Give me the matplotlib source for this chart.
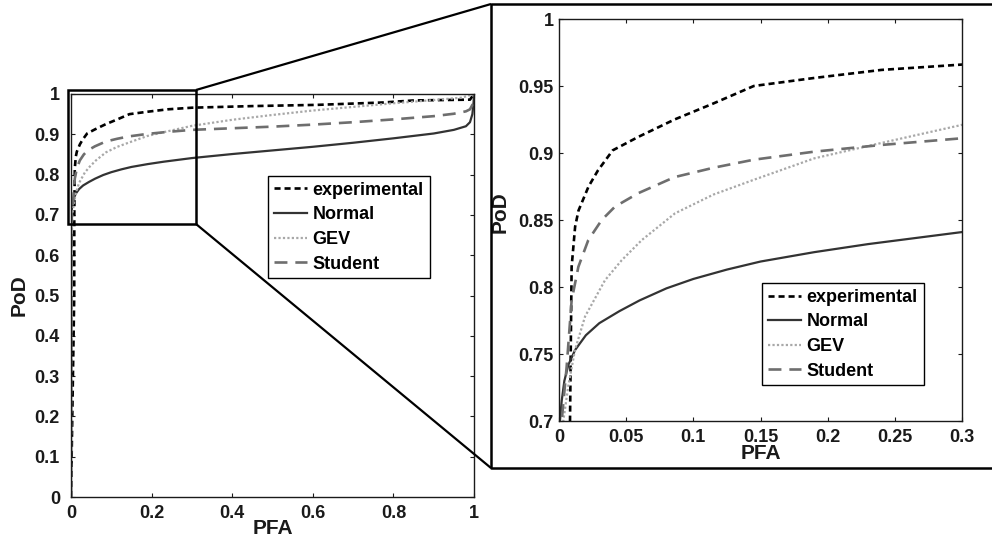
import matplotlib
matplotlib.use("Agg")
import matplotlib.pyplot as plt
from matplotlib.lines import Line2D
from matplotlib.patches import Rectangle
from matplotlib.ticker import FuncFormatter

plt.rcParams['font.family'] = ['Liberation Sans', 'DejaVu Sans']
plt.rcParams['font.weight'] = 'bold'

# ---------------- data ----------------
exp_x = [0, 0.008, 0.0082, 0.0094, 0.012, 0.0145, 0.022, 0.029, 0.040, 0.059,
         0.086, 0.115, 0.145, 0.19, 0.24, 0.30, 0.45, 0.61, 0.775, 0.85, 0.99, 1.0]
exp_y = [0, 0.50, 0.70, 0.815, 0.845, 0.857, 0.875, 0.887, 0.902, 0.912,
         0.925, 0.937, 0.950, 0.956, 0.962, 0.966, 0.970, 0.973, 0.979, 0.984, 0.986, 1.0]

norm_x = [0, 0.00005, 0.0002, 0.0007, 0.002, 0.004, 0.007, 0.012, 0.02, 0.03, 0.045,
          0.06, 0.08, 0.10, 0.125, 0.15, 0.19, 0.23, 0.30, 0.40, 0.50, 0.60, 0.70,
          0.80, 0.90, 0.95, 0.98, 0.99, 0.996, 0.999, 1.0]
norm_y = [0, 0.40, 0.60, 0.70, 0.715, 0.730, 0.742, 0.753, 0.764, 0.773, 0.782,
          0.790, 0.799, 0.806, 0.813, 0.819, 0.826, 0.832, 0.841, 0.851, 0.860, 0.869, 0.879,
          0.890, 0.902, 0.911, 0.920, 0.930, 0.950, 0.980, 1.0]

gev_x = [0, 0.0005, 0.0015, 0.0032, 0.0069, 0.0119, 0.0194, 0.0342, 0.0467, 0.0616,
         0.0864, 0.115, 0.145, 0.19, 0.229, 0.26, 0.30, 0.40, 0.50, 0.60, 0.70,
         0.80, 0.90, 0.97, 1.0]
gev_y = [0, 0.40, 0.60, 0.700, 0.726, 0.753, 0.778, 0.805, 0.820, 0.835,
         0.855, 0.869, 0.880, 0.896, 0.905, 0.912, 0.921, 0.936, 0.948, 0.959, 0.968,
         0.977, 0.985, 0.991, 1.0]

stu_x = [0, 0.0003, 0.001, 0.002, 0.0057, 0.0094, 0.0144, 0.0218, 0.0318, 0.0417,
         0.059, 0.086, 0.115, 0.145, 0.19, 0.24, 0.30, 0.40, 0.50, 0.60, 0.70,
         0.80, 0.90, 0.95, 0.98, 0.99, 0.997, 1.0]
stu_y = [0, 0.40, 0.60, 0.700, 0.7405, 0.790, 0.815, 0.835, 0.850, 0.860,
         0.870, 0.882, 0.889, 0.895, 0.901, 0.906, 0.911, 0.915, 0.919, 0.924, 0.930,
         0.937, 0.945, 0.951, 0.957, 0.962, 0.975, 1.0]

labels = ['experimental', 'Normal', 'GEV', 'Student']

main_xticks = [0, 0.2, 0.4, 0.6, 0.8, 1]
main_yticks = [0, 0.1, 0.2, 0.3, 0.4, 0.5, 0.6, 0.7, 0.8, 0.9, 1]
zoom_xticks = [0, 0.05, 0.1, 0.15, 0.2, 0.25, 0.3]
zoom_yticks = [0.7, 0.75, 0.8, 0.85, 0.9, 0.95, 1]

# ---------------- figure ----------------
W, H = 992, 541
fig = plt.figure(figsize=(W / 100, H / 100), dpi=100)

def fbox(x0, x1, ytop, ybot):
    return [x0 / W, 1 - ybot / H, (x1 - x0) / W, (ybot - ytop) / H]

ax = fig.add_axes(fbox(71, 474, 94, 497))
axz = fig.add_axes(fbox(559, 962, 19, 421))

styles = [
    dict(color='black', lw=1.9, ls=(0, (2.3, 1.5))),
    dict(color='#333333', lw=1.6, ls='-'),
    dict(color='#a8a8a8', lw=1.6, ls=(0, (1, 1))),
    dict(color='#6e6e6e', lw=1.9, ls=(0, (4.9, 3.0))),
]
series = [(exp_x, exp_y), (norm_x, norm_y), (gev_x, gev_y), (stu_x, stu_y)]

fmt = FuncFormatter(lambda v, p: '%g' % round(v, 4))

for a, xt, yt, xl, yl, leg_anchor, ypad in [
        (ax, main_xticks, main_yticks, (0, 1), (0, 1), (0.489, 0.7965), 8),
        (axz, zoom_xticks, zoom_yticks, (0, 0.3), (0.7, 1), (0.504, 0.343), 4)]:
    for (sx, sy), st, lab in zip(series, styles, labels):
        a.plot(sx, sy, label=lab, **st)
    a.set_xlim(*xl)
    a.set_ylim(*yl)
    a.set_xticks(xt)
    a.set_yticks(yt)
    a.xaxis.set_major_formatter(fmt)
    a.yaxis.set_major_formatter(fmt)
    a.tick_params(direction='in', length=3, width=0.8, top=True, right=True,
                  labelsize=13, colors='#1a1a1a')
    a.tick_params(axis='x', pad=5.5)
    a.tick_params(axis='y', pad=ypad)
    for sp in a.spines.values():
        sp.set_linewidth(1.0)
        sp.set_color('#1a1a1a')
    a.set_xlabel('PFA', fontsize=15, fontweight='bold', color='#1a1a1a')
    a.set_ylabel('PoD', fontsize=15, fontweight='bold', color='#1a1a1a')
    leg = a.legend(loc='upper left', bbox_to_anchor=leg_anchor, fontsize=13,
                   frameon=True, fancybox=False, framealpha=1, edgecolor='black',
                   handlelength=1.85, handletextpad=0.3, labelspacing=0.42,
                   borderpad=0.32, borderaxespad=0)
    leg.get_frame().set_linewidth(1.0)
    for t in leg.get_texts():
        t.set_fontweight('bold')

ax.xaxis.set_label_coords(0.5, -0.055)
ax.yaxis.set_label_coords(-0.104, 0.5)
axz.xaxis.set_label_coords(0.5, -0.057)
axz.yaxis.set_label_coords(-0.122, 0.52)

# zoom rectangle on the main axes
ax.add_patch(Rectangle((-0.0074, 0.677), 0.3174, 0.333, fill=False,
                       lw=1.8, edgecolor='black', clip_on=False, zorder=5))

# outer frame of the inset and connecting lines (figure pixel coords)
def fl(xs, ys, lw=1.8):
    fig.add_artist(Line2D([x / W for x in xs], [1 - y / H for y in ys],
                          transform=fig.transFigure, color='black', lw=lw,
                          solid_capstyle='butt'))

fl([1000, 491, 491, 1000], [4, 4, 468, 468])
fl([196, 491], [90, 4], lw=1.6)
fl([196, 491], [224, 468], lw=1.6)

fig.savefig('out.png', dpi=100)
